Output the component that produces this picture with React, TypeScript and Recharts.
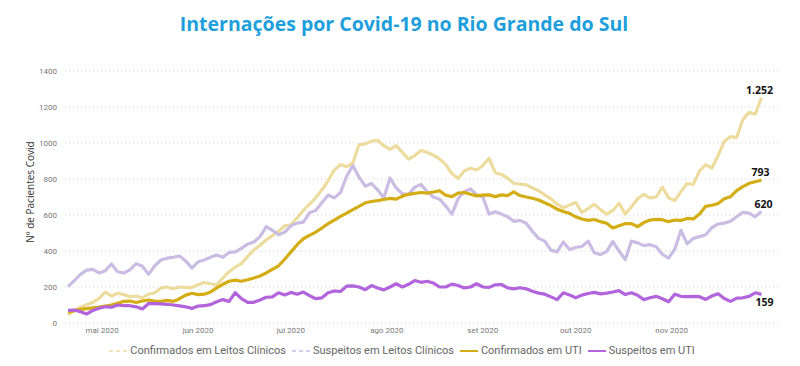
import { CartesianGrid, Line, LineChart, XAxis, YAxis } from "recharts";

// one reading every 2 days, first one on 20 Apr 2020 (day 0)
const STEP_DAYS = 2;

const monthTicks = [11, 42, 72, 103, 134, 164, 195];
const monthLabels = ["mai 2020", "jun 2020", "jul 2020", "ago 2020", "set 2020", "out 2020", "nov 2020"];
const yTicks = [0, 200, 400, 600, 800, 1000, 1200, 1400];

const confirmadosClinicos = [
  44, 70, 88, 102, 115, 137, 172, 150, 165, 158,
  146, 150, 140, 160, 168, 195, 200, 190, 200, 198,
  198, 212, 225, 218, 212, 250, 285, 310, 330, 370,
  405, 432, 462, 485, 510, 540, 545, 585, 625, 660,
  695, 740, 790, 850, 880, 868, 890, 990, 995, 1010,
  1015, 985, 965, 985, 948, 910, 930, 958, 948, 932,
  912, 880, 830, 803, 845, 860, 850, 875, 915, 835,
  825, 805, 775, 772, 768, 750, 735, 712, 690, 660,
  640, 655, 670, 615, 635, 660, 630, 605, 625, 665,
  605, 645, 690, 715, 695, 700, 755, 695, 680, 730,
  775, 770, 845, 880, 860, 930, 1010, 1035, 1030, 1130,
  1170, 1160, 1252,
];

const suspeitosClinicos = [
  202, 235, 270, 294, 298, 278, 290, 328, 285, 278,
  296, 330, 315, 270, 318, 350, 360, 365, 372, 345,
  305, 340, 350, 365, 378, 365, 392, 395, 415, 438,
  450, 480, 535, 515, 490, 505, 540, 555, 560, 612,
  625, 668, 711, 695, 725, 815, 875, 810, 760, 775,
  740, 695, 805, 750, 718, 715, 755, 770, 730, 700,
  688, 650, 605, 690, 729, 745, 712, 700, 605, 618,
  605, 590, 565, 570, 554, 510, 470, 455, 405, 395,
  450, 408, 420, 425, 455, 390, 380, 398, 452, 400,
  352, 455, 445, 430, 435, 424, 382, 360, 410, 515,
  440, 470, 480, 490, 530, 550, 555, 565, 590, 615,
  610, 590, 620,
];

const confirmadosUti = [
  60, 68, 76, 80, 84, 88, 94, 100, 110, 120,
  122, 114, 122, 128, 122, 120, 126, 120, 135, 155,
  165, 158, 160, 172, 195, 215, 232, 238, 232, 240,
  250, 261, 278, 298, 318, 355, 395, 435, 468, 487,
  505, 528, 552, 572, 592, 610, 630, 648, 668, 675,
  680, 686, 692, 688, 705, 715, 720, 725, 722, 728,
  735, 710, 702, 722, 725, 715, 706, 710, 712, 702,
  712, 708, 728, 708, 700, 693, 683, 668, 652, 632,
  620, 609, 590, 578, 570, 575, 563, 554, 528, 540,
  552, 552, 535, 558, 572, 576, 574, 563, 572, 570,
  581, 578, 605, 648, 654, 664, 690, 702, 735, 758,
  776, 785, 793,
];

const suspeitosUti = [
  70, 72, 63, 50, 70, 82, 90, 88, 100, 96,
  96, 90, 78, 108, 108, 106, 104, 100, 95, 90,
  81, 94, 96, 102, 118, 130, 120, 168, 135, 115,
  115, 128, 143, 145, 168, 156, 170, 160, 172, 152,
  135, 140, 168, 178, 175, 205, 206, 200, 185, 208,
  195, 184, 200, 218, 200, 215, 236, 226, 232, 222,
  200, 200, 216, 208, 195, 200, 218, 200, 198, 212,
  214, 195, 190, 196, 190, 176, 166, 160, 145, 130,
  168, 156, 140, 155, 164, 170, 162, 166, 172, 180,
  158, 168, 154, 130, 140, 148, 135, 118, 160, 148,
  146, 148, 146, 131, 150, 162, 136, 120, 138, 140,
  148, 168, 159,
];

const data = confirmadosClinicos.map((v, i) => ({
  day: i * STEP_DAYS,
  cc: v,
  sc: suspeitosClinicos[i],
  cu: confirmadosUti[i],
  su: suspeitosUti[i],
}));
const LAST = data.length - 1;

const series = [
  { key: "cc", name: "Confirmados em Leitos Clínicos", color: "#EDDC9E", dashed: true, dx: -2, dy: -4 },
  { key: "sc", name: "Suspeitos em Leitos Clínicos", color: "#CBBCE4", dashed: true, dx: 2, dy: -3 },
  { key: "cu", name: "Confirmados em UTI", color: "#D4AC14", dashed: false, dx: -1, dy: -4 },
  { key: "su", name: "Suspeitos em UTI", color: "#B264DC", dashed: false, dx: 3, dy: 12 },
];

const fmt = (v: number) => String(v).replace(/\B(?=(\d{3})+(?!\d))/g, ".");

function endLabel(dx: number, dy: number) {
  return (props: any) => {
    const { x, y, value, index } = props;
    if (index !== LAST) return null;
    return (
      <text
        x={x + dx}
        y={y + dy}
        textAnchor="middle"
        fontFamily="'Open Sans', sans-serif"
        fontWeight={700}
        fontSize={10.5}
        fill="#111"
      >
        {fmt(value)}
      </text>
    );
  };
}

function LegendIcon({ color, dashed }: { color: string; dashed: boolean }) {
  return (
    <svg width={18} height={6} style={{ display: "block" }}>
      <line
        x1={0}
        y1={3}
        x2={18}
        y2={3}
        stroke={color}
        strokeWidth={dashed ? 1.5 : 2}
        strokeDasharray={dashed ? "4 3" : undefined}
      />
    </svg>
  );
}

const tickStyle = { fontSize: 8, fill: "#777", fontFamily: "Roboto, sans-serif" };

export default function App() {
  return (
    <div
      style={{
        position: "absolute",
        left: 0,
        top: 0,
        width: 800,
        height: 366,
        background: "#fff",
        overflow: "hidden",
      }}
    >
      <div
        style={{
          position: "absolute",
          left: 4,
          top: 11,
          width: 800,
          textAlign: "center",
          fontFamily: "'Open Sans', sans-serif",
          fontWeight: 700,
          fontSize: 19.5,
          lineHeight: "26px",
          color: "#1E9FDB",
        }}
      >
        Internações por Covid-19 no Rio Grande do Sul
      </div>

      <div style={{ position: "absolute", left: 0, top: 0 }}>
        <LineChart width={800} height={366} data={data} margin={{ top: 71, right: 20, bottom: 27, left: 35 }}>
          <CartesianGrid vertical={false} stroke="#cfcfcf" strokeDasharray="1 3" />
          <XAxis
            dataKey="day"
            type="number"
            domain={[-1, 230]}
            ticks={monthTicks}
            tickFormatter={(d: number) => monthLabels[monthTicks.indexOf(d)] ?? ""}
            axisLine={false}
            tickLine={false}
            tickSize={0}
            tickMargin={4}
            height={16}
            tick={tickStyle}
          />
          <YAxis
            domain={[0, 1400]}
            ticks={yTicks}
            width={30}
            axisLine={false}
            tickLine={false}
            tick={tickStyle}
            label={{
              content: ({ viewBox }: any) => (
                <text
                  x={viewBox.x - 5}
                  y={viewBox.y + viewBox.height / 2 - 5}
                  transform={`rotate(-90 ${viewBox.x - 5} ${viewBox.y + viewBox.height / 2 - 5})`}
                  textAnchor="middle"
                  dominantBaseline="central"
                  fontFamily="'Open Sans', sans-serif"
                  fontSize={10}
                  fill="#333"
                >
                  Nº de Pacientes Covid
                </text>
              ),
            }}
          />
          {series.map((s) => (
            <Line
              key={s.key}
              type="linear"
              dataKey={s.key}
              name={s.name}
              stroke={s.color}
              strokeWidth={3.2}
              strokeLinejoin="round"
              dot={false}
              activeDot={false}
              label={endLabel(s.dx, s.dy)}
              isAnimationActive={false}
            />
          ))}
        </LineChart>
      </div>

      <div
        style={{
          position: "absolute",
          left: 2,
          top: 344,
          width: 800,
          display: "flex",
          justifyContent: "center",
          alignItems: "center",
          gap: 6,
          fontFamily: "Roboto, sans-serif",
          fontSize: 11,
          color: "#666",
          lineHeight: "14px",
        }}
      >
        {series.map((s) => (
          <div key={s.key} style={{ display: "flex", alignItems: "center", gap: 3 }}>
            <LegendIcon color={s.color} dashed={s.dashed} />
            <span>{s.name}</span>
          </div>
        ))}
      </div>
    </div>
  );
}
